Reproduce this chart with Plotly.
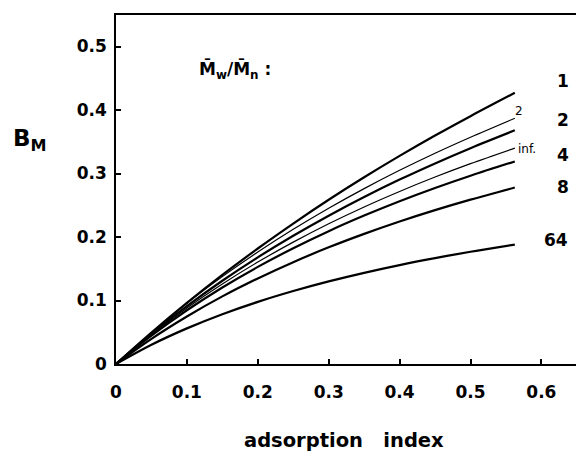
import plotly.graph_objects as go

x_vals = [0, 0.05, 0.1, 0.15, 0.2, 0.25, 0.3, 0.35, 0.4, 0.45, 0.5, 0.5625]
b_1 = [0, 0.0495, 0.0962, 0.1402, 0.1819, 0.2212, 0.2586, 0.2940, 0.3277, 0.3598, 0.3903, 0.427]
b_2_thin = [0, 0.0490, 0.0956, 0.1376, 0.1763, 0.2121, 0.2453, 0.2762, 0.3050, 0.3319, 0.3571, 0.387]
b_2 = [0, 0.0476, 0.0911, 0.1311, 0.1680, 0.2020, 0.2336, 0.2630, 0.2904, 0.3159, 0.3399, 0.368]
b_inf = [0, 0.0464, 0.0883, 0.1261, 0.1605, 0.1919, 0.2208, 0.2473, 0.2717, 0.2944, 0.3155, 0.340]
b_4 = [0, 0.0447, 0.0846, 0.1205, 0.1529, 0.1823, 0.2092, 0.2337, 0.2563, 0.2772, 0.2965, 0.319]
b_8 = [0, 0.0397, 0.0749, 0.1065, 0.1348, 0.1604, 0.1837, 0.2049, 0.2244, 0.2423, 0.2588, 0.278]
b_64 = [0, 0.0303, 0.0561, 0.0784, 0.0978, 0.1149, 0.1301, 0.1436, 0.1558, 0.1667, 0.1767, 0.188]

series = [
    (b_1, 2.2), (b_2_thin, 1.2), (b_2, 2.2), (b_inf, 1.2),
    (b_4, 2.2), (b_8, 2.2), (b_64, 2.2),
]

x_ticks = [0, 0.1, 0.2, 0.3, 0.4, 0.5, 0.6]
x_tick_text = ["0", "0.1", "0.2", "0.3", "0.4", "0.5", "0.6"]
y_ticks = [0, 0.1, 0.2, 0.3, 0.4, 0.5]
y_tick_text = ["0", "0.1", "0.2", "0.3", "0.4", "0.5"]

ratio_labels = ["1", "2", "4", "8", "64"]
ratio_label_x = [0.630, 0.630, 0.630, 0.630, 0.620]
ratio_label_y = [0.446, 0.384, 0.329, 0.279, 0.195]

FONT = "DejaVu Sans"

fig = go.Figure()
for ys, w in series:
    fig.add_trace(go.Scatter(x=x_vals, y=ys, mode="lines",
                             line=dict(color="black", width=w, shape="spline"),
                             showlegend=False, hoverinfo="skip"))

axis_common = dict(showline=True, linecolor="black", linewidth=1.5,
                   ticks="inside", ticklen=5, tickwidth=1.5, tickcolor="black",
                   showgrid=False, zeroline=False,
                   tickfont=dict(family=FONT, size=17, color="black", weight="bold"))

fig.update_xaxes(range=[0, 0.6488], tickvals=x_ticks, ticktext=x_tick_text,
                 mirror=True, ticklabelstandoff=12, **axis_common)
fig.update_yaxes(range=[0, 0.5496], tickvals=y_ticks, ticktext=y_tick_text,
                 mirror=False, ticklabelstandoff=4, **axis_common)

ann = []
for t, ax, ay in zip(ratio_labels, ratio_label_x, ratio_label_y):
    ann.append(dict(x=ax, y=ay, text=t, showarrow=False, xanchor="center", yanchor="middle",
                    font=dict(family=FONT, size=17, color="black", weight="bold")))
ann.append(dict(x=0.569, y=0.398, text="2", showarrow=False, xanchor="center", yanchor="middle",
                font=dict(family=FONT, size=12, color="black")))
ann.append(dict(x=0.564, y=0.338, text="inf.", showarrow=False, xanchor="left", yanchor="middle",
                font=dict(family=FONT, size=12, color="black")))
ann.append(dict(x=0.114, y=0.463, text="M\u0304<sub>w</sub>/M\u0304<sub>n</sub> :", showarrow=False,
                xanchor="left", yanchor="middle",
                font=dict(family=FONT, size=17, color="black", weight="bold")))
ann.append(dict(xref="paper", yref="paper", x=-0.187, y=0.641, text="B<sub>M</sub>", showarrow=False,
                xanchor="center", yanchor="middle",
                font=dict(family=FONT, size=23, color="black", weight="bold")))
ann.append(dict(xref="paper", yref="paper", x=0.4957, y=-0.2206, text="adsorption&nbsp;&nbsp; index",
                showarrow=False, xanchor="center", yanchor="middle",
                font=dict(family=FONT, size=19.5, color="black", weight="bold")))

fig.update_layout(width=576, height=452, margin=dict(l=116, r=0, t=15, b=88),
                  paper_bgcolor="white", plot_bgcolor="white", annotations=ann)

fig.write_html("out.html")
